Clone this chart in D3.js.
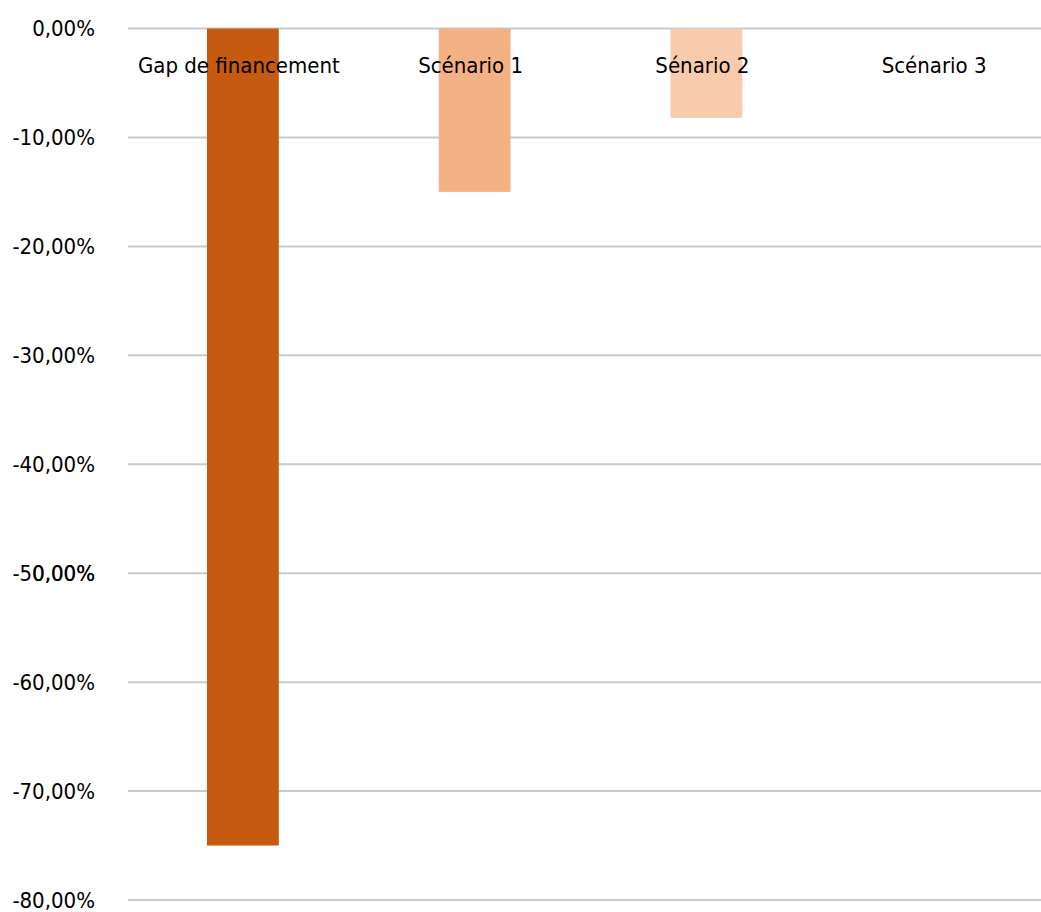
<!DOCTYPE html>
<html>
<head>
<meta charset="utf-8">
<script src="https://cdn.jsdelivr.net/npm/d3@7"></script>
<style>
  body { margin: 0; background: #fff; }
  text { font-family: "Liberation Sans Narrow", "DejaVu Sans Condensed", sans-serif; fill: #000; }
</style>
</head>
<body>
<svg id="chart"></svg>
<script>
// data
var categories = ["Gap de financement", "Scénario 1", "Sénario 2", "Scénario 3"];
var values = [-75.0, -15.0, -8.2, 0];
var barColors = ["#c55a11", "#f4b183", "#f8cbad", "#fbe5d6"];
var yTicks = [0, -10, -20, -30, -40, -50, -60, -70, -80];
// stray label that overlaps the -50 tick in the original
var strayLabels = [{ value: -50, text: "0,00%" }];

var screen = { width: 1041, height: 912 };

var svg = d3.select("#chart").attr("width", screen.width).attr("height", screen.height);

var yScale = d3.scaleLinear().domain([0, -80]).range([28.5, 900]);
var xScale = d3.scaleBand()
  .domain(categories)
  .range([127, 1054])
  .paddingInner(0.69)
  .paddingOuter(0.345);

var fmt = function (v) {
  return v.toFixed(2).replace(".", ",") + "%";
};

// gridlines
svg.append("g").classed("grid", true)
  .selectAll("line")
  .data(yTicks)
  .enter()
  .append("line")
  .attr("x1", 128)
  .attr("x2", screen.width)
  .attr("y1", function (d) { return yScale(d); })
  .attr("y2", function (d) { return yScale(d); })
  .attr("stroke", "#c9c9c9")
  .attr("stroke-width", 2);

// y labels
var yLabels = svg.append("g").classed("ylabels", true);
yLabels.selectAll("text.tick")
  .data(yTicks)
  .enter()
  .append("text")
  .classed("tick", true)
  .attr("x", 95)
  .attr("y", function (d) { return yScale(d); })
  .attr("dy", "0.36em")
  .attr("text-anchor", "end")
  .attr("font-size", 22)
  .text(fmt);

yLabels.selectAll("text.stray")
  .data(strayLabels)
  .enter()
  .append("text")
  .classed("stray", true)
  .attr("x", 95)
  .attr("y", function (d) { return yScale(d.value); })
  .attr("dy", "0.36em")
  .attr("text-anchor", "end")
  .attr("font-size", 22)
  .text(function (d) { return d.text; });

// bars
svg.append("g").classed("bars", true)
  .selectAll("rect")
  .data(values)
  .enter()
  .append("rect")
  .attr("x", function (d, i) { return xScale(categories[i]); })
  .attr("width", xScale.bandwidth())
  .attr("y", function (d) { return yScale(Math.max(0, d)); })
  .attr("height", function (d) { return Math.abs(yScale(d) - yScale(0)); })
  .attr("fill", function (d, i) { return barColors[i]; });

// category labels, drawn near the zero line
svg.append("g").classed("xlabels", true)
  .selectAll("text")
  .data(categories)
  .enter()
  .append("text")
  .attr("x", function (d) { return xScale(d) + xScale.bandwidth() / 2 - 4; })
  .attr("y", 73)
  .attr("text-anchor", "middle")
  .attr("font-size", 22)
  .text(function (d) { return d; });
</script>
</body>
</html>
